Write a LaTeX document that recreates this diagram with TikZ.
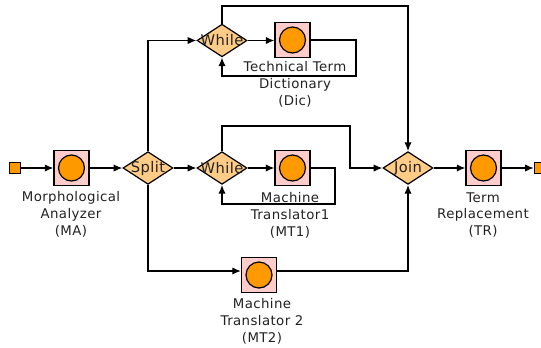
\documentclass[tikz,border=0pt]{standalone}
\usepackage{fontspec}
\setmainfont{DejaVu Sans}[LetterSpace=3]
\usetikzlibrary{shapes.geometric,arrows.meta}
\definecolor{pinkbox}{HTML}{FFCCCC}
\definecolor{orangefill}{HTML}{FF9900}
\definecolor{gatefill}{HTML}{FFCC88}
\definecolor{labelgray}{HTML}{222222}
\tikzset{
  px/.style={x=0.75pt,y=-0.75pt},
  taskbox/.style={draw=black,fill=pinkbox,line width=1.1pt,minimum width=26pt,minimum height=26.5pt,inner sep=0pt},
  taskdot/.style={circle,draw=black,fill=orangefill,line width=0.9pt,minimum size=19.5pt,inner sep=0pt},
  gate/.style={diamond,aspect=1.55,draw=black,fill=gatefill,line width=0.9pt,minimum width=37.5pt,minimum height=24.5pt,inner sep=0pt},
  gatetext/.style={inner sep=0pt,text=labelgray,font=\fontsize{11pt}{12pt}\selectfont},
  endsq/.style={draw=black,fill=orangefill,line width=0.8pt,minimum size=8.6pt,inner sep=0pt},
  flow/.style={line width=1.05pt,-{Latex[length=6.5pt,width=5.5pt]}},
  caption/.style={align=center,text=labelgray,inner sep=0pt,font=\fontsize{10pt}{12.7pt}\selectfont},
}
\begin{document}
\begin{tikzpicture}[px]
\useasboundingbox (0,0) rectangle (541,347);
\coordinate (S) at (15,168);
\coordinate (E) at (540,168);
\node[endsq] (start) at (S) {};
\node[taskbox] (ma) at (71.5,168) {};
\node[taskbox] (dic) at (292.5,40) {};
\node[taskbox] (mt1) at (292.5,168) {};
\node[taskbox] (mt2) at (259,275) {};
\node[taskbox] (tr) at (483.5,168) {};
\node[taskdot] at (ma) {};
\node[taskdot] at (dic) {};
\node[taskdot] at (mt1) {};
\node[taskdot] at (mt2) {};
\node[taskdot] at (tr) {};
\node[gate] (split) at (148,168) {};
\node[gate] (w1) at (222,40.5) {};
\node[gate] (w2) at (222,168) {};
\node[gate] (join) at (408,168) {};
\node[gatetext] (splittext) at (split) {Split};
\node[gatetext] (w1text) at (w1) {While};
\node[gatetext] (w2text) at (w2) {While};
\node[gatetext] (jointext) at (join) {Join};
\node[endsq] (end) at (E) {};
\coordinate (c1) at (148,40.5);
\coordinate (c2) at (148,271);
\coordinate (c3) at (408,271);
\coordinate (c4) at (222,6);
\coordinate (c5) at (408,6);
\coordinate (c6) at (222,126);
\coordinate (c7) at (350,126);
\coordinate (c8) at (350,168);
\coordinate (c9) at (356,40);
\coordinate (c10) at (356,76);
\coordinate (c11) at (222,76);
\coordinate (c12) at (335,168);
\coordinate (c13) at (335,204);
\coordinate (c14) at (222,204);
\draw[flow] (start) -- (ma);
\draw[flow] (ma) -- (split);
\draw[flow] (split) -- (w2);
\draw[flow] (w2) -- (mt1);
\draw[flow] (w1.east) -- (dic.west |- w1.east);
\draw[flow] (join) -- (tr);
\draw[flow] (tr) -- (end);
\draw[flow] (split.north) -- (c1) -- (w1.west);
\draw[flow] (split.south) -- (c2) -- (c2 -| mt2.west);
\draw[flow] (c3 -| mt2.east) -- (c3) -- (join.south);
\draw[flow] (w1.north) -- (c4) -- (c5) -- (join.north);
\draw[flow] (w2.north) -- (c6) -- (c7) -- (c8) -- (join.west);
\draw[flow] (dic.east) -- (c9) -- (c10) -- (c11) -- (w1.south);
\draw[flow] (mt1.east) -- (c12) -- (c13) -- (c14) -- (w2.south);
\node[caption] (capma) at (71,214) {Morphological\\Analyzer\\(MA)};
\node[caption] (capdic) at (295,84.5) {Technical Term\\Dictionary\\(Dic)};
\node[caption] (capmt1) at (290,215) {Machine\\Translator1\\(MT1)};
\node[caption] (capmt2) at (262,321.5) {Machine\\Translator 2\\(MT2)};
\node[caption] (captr) at (483,215) {Term\\Replacement\\(TR)};
\end{tikzpicture}
\end{document}
